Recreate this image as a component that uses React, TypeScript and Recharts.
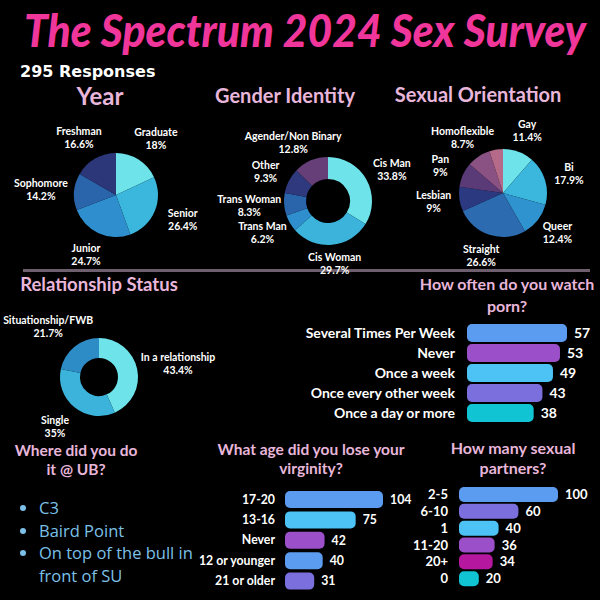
import React from "react"
import { PieChart, Pie, Cell, BarChart, Bar, XAxis, YAxis, LabelList } from "recharts"

// survey numbers
const yearNames = ["Graduate", "Senior", "Junior", "Sophomore", "Freshman"]
const yearPcts = [18, 26.4, 24.7, 14.2, 16.6]

const genderNames = ["Cis Man", "Cis Woman", "Trans Man", "Trans Woman", "Other", "Agender/Non Binary"]
const genderPcts = [33.8, 29.7, 6.2, 8.3, 9.3, 12.8]

const orientNames = ["Gay", "Bi", "Queer", "Straight", "Lesbian", "Pan", "Homoflexible", "Other"]
const orientPcts = [11.4, 17.9, 12.4, 26.6, 9, 9, 8.7, 5]

const relNames = ["In a relationship", "Single", "Situationship/FWB"]
const relPcts = [43.4, 35, 21.7]

const pornNames = ["Several Times Per Week", "Never", "Once a week", "Once every other week", "Once a day or more"]
const pornCounts = [57, 53, 49, 43, 38]

const ageNames = ["17-20", "13-16", "Never", "12 or younger", "21 or older"]
const ageCounts = [104, 75, 42, 40, 31]

const partnerNames = ["2-5", "6-10", "1", "11-20", "20+", "0"]
const partnerCounts = [100, 60, 40, 36, 34, 20]

const placesUB = ["C3", "Baird Point", "On top of the bull in front of SU"]

// palettes
const yearColors = ["#6ee3ea", "#3bb6dc", "#2f8fce", "#2a65ab", "#2c377a"]
const genderColors = ["#6ee3ea", "#3bb3da", "#2f8fce", "#2a65ab", "#2e3a7d", "#663f78"]
const orientColors = ["#6ee3ea", "#3bb6dc", "#2f93cf", "#2c6bb0", "#2b3a80", "#5b3a78", "#8a5282", "#b46a88"]
const relColors = ["#6ee3ea", "#3bb3da", "#2d8cc6"]
const pornColors = ["#5b9cf0", "#9b4fc9", "#4cc2f5", "#7a6fdc", "#11c4d4"]
const ageColors = ["#5b9cf0", "#4cc2f5", "#9b4fc9", "#5b9cf0", "#7a6fdc"]
const partnerColors = ["#5b9cf0", "#7a6fdc", "#4cc2f5", "#9b4fc9", "#b5179e", "#11c4d4"]

const FONT = "Lato, 'Open Sans', sans-serif"
const HEAD = "#e8b6da"

const toRows = (names: string[], vals: number[]) => names.map((name, i) => ({ name, value: vals[i] }))

// two line label (name / pct) outside the slice, pushed sideways by text width
const sliceLabel = (gap: number, push: number) => (p: any) => {
  const { cx, cy, midAngle, outerRadius, name, value } = p
  if (value < 6) return null
  const rad = (midAngle * Math.PI) / 180
  const cos = Math.cos(rad)
  const sin = Math.sin(rad)
  const w = Math.max(name.length, 5) * 5.8
  const x = cx + (outerRadius + gap) * cos + cos * w * push
  const y = cy - (outerRadius + gap) * sin
  return (
    <text x={x} y={y - 3} textAnchor="middle" fill="#fff" fontSize={10.5} fontWeight={700} fontFamily={FONT}>
      <tspan x={x}>{name}</tspan>
      <tspan x={x} dy={13}>{value}%</tspan>
    </text>
  )
}

function HBar(props: {
  names: string[]; values: number[]; colors: string[]; max: number
  left: number; top: number; width: number; height: number
  axisW: number; right: number; barSize: number; fontSize: number; tickGap: number
}) {
  const data = toRows(props.names, props.values)
  return (
    <div style={{ position: "absolute", left: props.left, top: props.top }}>
      <BarChart width={props.width} height={props.height} data={data} layout="vertical"
        margin={{ top: 0, right: props.right, bottom: 0, left: 0 }}>
        <XAxis type="number" domain={[0, props.max]} hide />
        <YAxis type="category" dataKey="name" width={props.axisW} axisLine={false} tickLine={false}
          tickSize={0} tickMargin={props.tickGap} interval={0}
          tick={{ fill: "#fff", fontSize: props.fontSize, fontWeight: 700, fontFamily: FONT }} />
        <Bar dataKey="value" barSize={props.barSize} radius={5} isAnimationActive={false}>
          {data.map((d, i) => <Cell key={d.name} fill={props.colors[i]} />)}
          <LabelList dataKey="value" position="right" offset={7} fill="#fff"
            fontSize={props.fontSize} fontWeight={700} fontFamily={FONT} />
        </Bar>
      </BarChart>
    </div>
  )
}

const heading = (text: string, left: number, top: number, w: number, size: number) => (
  <div style={{ position: "absolute", left, top, width: w, textAlign: "center", color: HEAD,
    fontSize: size, fontWeight: 700, lineHeight: 1.2, fontFamily: FONT, whiteSpace: "nowrap" }}>{text}</div>
)

const twoLines = (a: string, b: string, left: number, top: number, w: number, size: number, lh: number) => (
  <div style={{ position: "absolute", left, top, width: w, textAlign: "center", color: HEAD,
    fontSize: size, fontWeight: 700, lineHeight: `${lh}px`, whiteSpace: "nowrap" }}>
    {a}<br />{b}
  </div>
)

export default function App() {
  return (
    <div style={{ position: "fixed", left: 0, top: 0, width: 600, height: 600, background: "#000",
      overflow: "hidden", fontFamily: FONT }}>
      <svg width={600} height={84} style={{ position: "absolute", left: 0, top: 0 }}>
        <g transform="translate(0,47) scale(1,1.18)">
          <text x={24} y={0} textLength={562} lengthAdjust="spacingAndGlyphs" fill="#f0369a"
            fontSize={39} fontWeight={900} fontStyle="italic" fontFamily="Lato, sans-serif">
            The Spectrum 2024 Sex Survey
          </text>
        </g>
        <text x={20} y={77} fill="#fff" fontSize={16} fontWeight={700} fontFamily="'DejaVu Sans', sans-serif">
          295 Responses
        </text>
      </svg>

      {heading("Year", 40, 82, 120, 24)}
      {heading("Gender Identity", 190, 83, 190, 20)}
      {heading("Sexual Orientation", 378, 82, 200, 20)}

      <div style={{ position: "absolute", left: 23, top: 269, width: 567, height: 3, background: "#6e5f6e" }} />

      {heading("Relationship Status", 9, 273, 180, 18.5)}

      {twoLines("How often do you watch", "porn?", 407, 273, 200, 16, 22)}
      {twoLines("Where did you do", "it @ UB?", 6, 441, 140, 15.5, 19)}
      {twoLines("What age did you lose your", "virginity?", 206, 440, 210, 15.5, 19)}
      {twoLines("How many sexual", "partners?", 443, 438, 140, 16, 20)}

      <ul style={{ position: "absolute", left: 0, top: 497, width: 156, margin: 0, paddingLeft: 39,
        color: "#7cc0e8", fontSize: 16.5, lineHeight: "22.5px", fontFamily: "'Open Sans', sans-serif" }}>
        {placesUB.map((p) => <li key={p} style={{ color: "#7cc0e8" }}>{p}</li>)}
      </ul>

      <div style={{ position: "absolute", left: 0, top: 0 }}>
        <PieChart width={600} height={600}>
          <Pie data={toRows(yearNames, yearPcts)} dataKey="value" nameKey="name" cx={111} cy={190}
            outerRadius={42} startAngle={90} endAngle={-270} stroke="none" labelLine={false}
            label={sliceLabel(24, 0.18)} isAnimationActive={false}>
            {yearNames.map((n, i) => <Cell key={n} fill={yearColors[i]} />)}
          </Pie>
          <Pie data={toRows(genderNames, genderPcts)} dataKey="value" nameKey="name" cx={323} cy={196}
            innerRadius={22} outerRadius={44} startAngle={90} endAngle={-270} stroke="none" labelLine={false}
            label={sliceLabel(19, 0.25)} isAnimationActive={false}>
            {genderNames.map((n, i) => <Cell key={n} fill={genderColors[i]} />)}
          </Pie>
          <Pie data={toRows(orientNames, orientPcts)} dataKey="value" nameKey="name" cx={498} cy={188}
            outerRadius={44} startAngle={90} endAngle={-270} stroke="none" labelLine={false}
            label={sliceLabel(22, 0.1)} isAnimationActive={false}>
            {orientNames.map((n, i) => <Cell key={n} fill={orientColors[i]} />)}
          </Pie>
          <Pie data={toRows(relNames, relPcts)} dataKey="value" nameKey="name" cx={94} cy={372}
            innerRadius={19} outerRadius={39} startAngle={90} endAngle={-270} stroke="none" labelLine={false}
            label={sliceLabel(25, 0.17)} isAnimationActive={false}>
            {relNames.map((n, i) => <Cell key={n} fill={relColors[i]} />)}
          </Pie>
        </PieChart>
      </div>

      <HBar names={pornNames} values={pornCounts} colors={pornColors} max={57}
        left={290} top={323} width={310} height={100} axisW={177} right={33}
        barSize={18} fontSize={14} tickGap={12} />
      <HBar names={ageNames} values={ageCounts} colors={ageColors} max={104}
        left={185} top={489} width={228} height={102} axisW={100} right={30}
        barSize={17} fontSize={12.3} tickGap={10} />
      <HBar names={partnerNames} values={partnerCounts} colors={partnerColors} max={100}
        left={400} top={486} width={193} height={101} axisW={59} right={35}
        barSize={15} fontSize={13} tickGap={11} />
    </div>
  )
}
